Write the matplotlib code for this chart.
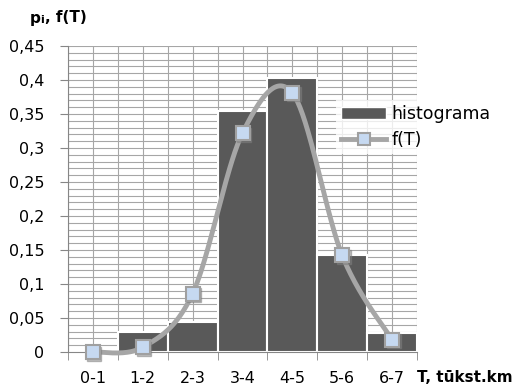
import numpy as np
import matplotlib
matplotlib.use("Agg")
import matplotlib.pyplot as plt
from matplotlib.ticker import MultipleLocator, FuncFormatter
from matplotlib.lines import Line2D
from matplotlib.patches import Patch
import matplotlib.transforms as mtransforms

categories = ["0-1", "1-2", "2-3", "3-4", "4-5", "5-6", "6-7"]
hist_values = [0.0, 0.030, 0.044, 0.355, 0.403, 0.143, 0.028]
f_values = [0.0, 0.007, 0.086, 0.322, 0.381, 0.142, 0.018]

plt.rcParams['font.family'] = ['DejaVu Sans']

fig = plt.figure(figsize=(5.18, 3.90), dpi=100)
ax = fig.add_axes([68/518, 1-352/390, (417-68)/518, (352-46)/390])

x = np.arange(len(categories))

# grid
ax.set_xlim(-0.5, len(categories) - 0.5)
ax.set_ylim(0, 0.45)
ax.yaxis.set_major_locator(MultipleLocator(0.05))
ax.yaxis.set_minor_locator(MultipleLocator(0.01))
ax.set_xticks(x)
ax.set_xticklabels(categories)
ax.xaxis.set_minor_locator(MultipleLocator(0.5))
ax.grid(which='both', color='#a6a6a6', linewidth=0.8)
ax.set_axisbelow(True)

ax.bar(x, hist_values, width=1.0, color='#595959', edgecolor='white', linewidth=1.5, zorder=2)

# smooth curve (Catmull-Rom, like Excel smoothed line)
P = np.column_stack([x, f_values]).astype(float)
pts = []
n = len(P)
for i in range(n - 1):
    p0 = P[i - 1] if i > 0 else P[i]
    p1 = P[i]
    p2 = P[i + 1]
    p3 = P[i + 2] if i + 2 < n else P[i + 1]
    c1 = p1 + (p2 - p0) / 6.0
    c2 = p2 - (p3 - p1) / 6.0
    t = np.linspace(0, 1, 40)[:, None]
    seg = (1 - t) ** 3 * p1 + 3 * (1 - t) ** 2 * t * c1 + 3 * (1 - t) * t ** 2 * c2 + t ** 3 * p2
    pts.append(seg if i == 0 else seg[1:])
curve = np.vstack(pts)
ax.plot(curve[:, 0], curve[:, 1], color='#a6a6a6', linewidth=3.5, solid_capstyle='round', zorder=3, clip_on=False)

# marker shadows
shadow = mtransforms.offset_copy(ax.transData, fig=fig, x=1.5, y=-1.5, units='dots')
ax.plot(x, f_values, linestyle='none', marker='s', markersize=10, color='#7f7f7f', alpha=0.5,
        transform=shadow, zorder=4, clip_on=False)
ax.plot(x, f_values, linestyle='none', marker='s', markersize=10, markerfacecolor='#c6d9f1',
        markeredgecolor='#a0a0a0', markeredgewidth=1.5, zorder=5, clip_on=False)

# axes styling
for s in ['top', 'right']:
    ax.spines[s].set_visible(False)
for s in ['left', 'bottom']:
    ax.spines[s].set_color('#868686')
    ax.spines[s].set_linewidth(0.8)
ax.tick_params(which='major', axis='y', length=6, color='#868686', labelsize=11.5, pad=11)
ax.tick_params(which='major', axis='x', length=0, labelsize=11.5, pad=14)
ax.tick_params(which='minor', length=0)
ax.set_xticks(np.arange(-0.5, len(categories), 1.0), minor=True)
ax.tick_params(which='minor', axis='x', length=6, color='#868686', direction='out')
ax.yaxis.set_major_formatter(FuncFormatter(lambda v, p: ('%g' % round(v, 2)).replace('.', ',')))

fig.text(30/518, 1-18/390, 'p', fontsize=11, fontweight='bold', ha='left', va='center')
fig.text(40/518, 1-20/390, 'i', fontsize=8, fontweight='bold', ha='left', va='center')
fig.text(45/518, 1-18/390, ', f(T)', fontsize=11, fontweight='bold', ha='left', va='center')
fig.text(417/518, 1-378/390, 'T, tūkst.km', fontsize=11, fontweight='bold', ha='left', va='center')

handles = [Patch(facecolor='#595959', edgecolor='white'),
           Line2D([0], [0], color='#a6a6a6', linewidth=3.5, marker='s', markersize=8,
                  markerfacecolor='#c6d9f1', markeredgecolor='#a0a0a0', markeredgewidth=1.5)]
leg = fig.legend(handles, ['histograma', 'f(T)'], loc='upper left',
                 bbox_to_anchor=(336/518, 1-100/390), frameon=True, fontsize=12.5,
                 handlelength=2.6, handleheight=0.7, handletextpad=0.3, labelspacing=0.45,
                 borderpad=0.3, borderaxespad=0)
leg.get_frame().set_edgecolor('none')
leg.get_frame().set_facecolor('white')
leg.get_frame().set_boxstyle('square', pad=0)

fig.savefig('out.png', dpi=100)
